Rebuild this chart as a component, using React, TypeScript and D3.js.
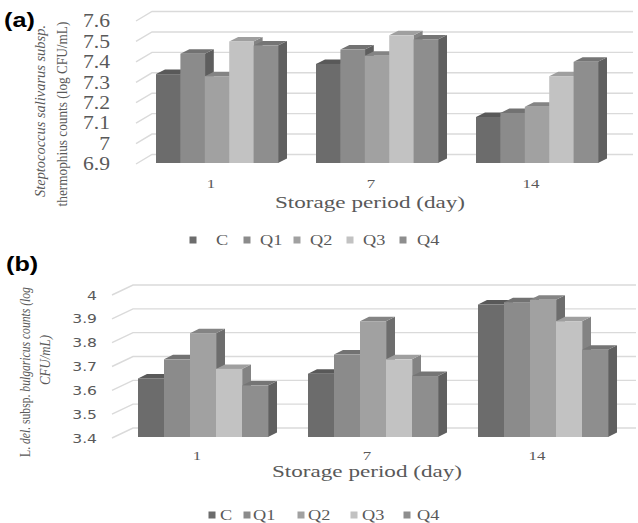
import React, { useEffect, useRef } from 'react';
import * as d3 from 'd3';

// categories (storage day) and treatments
const categories = ['1', '7', '14'];
const seriesNames = ['C', 'Q1', 'Q2', 'Q3', 'Q4'];
const seriesColors = ['#6c6c6c', '#8b8b8b', '#a1a1a1', '#c2c2c2', '#8e8e8e'];

// (a) S. thermophilus counts, log CFU/mL
const thermoC = [7.34, 7.39, 7.13];
const thermoQ1 = [7.44, 7.46, 7.15];
const thermoQ2 = [7.33, 7.43, 7.18];
const thermoQ3 = [7.5, 7.53, 7.33];
const thermoQ4 = [7.48, 7.51, 7.4];
const ticksA = [6.9, 7, 7.1, 7.2, 7.3, 7.4, 7.5, 7.6];

// (b) L. bulgaricus counts, log CFU/mL
const bulgC = [3.65, 3.67, 3.96];
const bulgQ1 = [3.73, 3.75, 3.97];
const bulgQ2 = [3.84, 3.89, 3.98];
const bulgQ3 = [3.69, 3.73, 3.89];
const bulgQ4 = [3.62, 3.66, 3.77];
const ticksB = [3.4, 3.5, 3.6, 3.7, 3.8, 3.9, 4];

const SERIF = '"Liberation Serif", "Times New Roman", serif';
const SANS = '"DejaVu Sans", sans-serif';
const GREY = '#595959';

const stretchText = (g, x, y, str, sx, opts: any = {}) =>
  g.append('text')
    .attr('transform', `translate(${x},${y}) scale(${sx},1)`)
    .attr('font-family', opts.font || SERIF)
    .attr('font-size', opts.size || 15)
    .attr('font-weight', opts.weight || 'normal')
    .attr('text-anchor', opts.anchor || 'start')
    .attr('fill', opts.fill || GREY)
    .text(str);

function drawPanel(svg, p) {
  const g = svg.append('g');
  const y = d3.scaleLinear()
    .domain([p.ticks[0], p.ticks[p.ticks.length - 1]])
    .range(p.yRange);
  const [wdx, wdy] = p.wall;

  // back wall gridlines with the left diagonal
  p.ticks.forEach(t => {
    g.append('path')
      .attr('d', `M${p.axisX},${y(t)}L${p.axisX + wdx},${y(t) + wdy}H${p.wallRight}`)
      .attr('fill', 'none')
      .attr('stroke', '#dadada')
      .attr('stroke-width', 1.4);
  });

  // tick labels
  p.ticks.forEach(t => {
    stretchText(g, p.tickX, y(t), d3.format('~g')(t), p.tickStretch, { font: p.tickFont, size: p.tickSize, anchor: 'end' })
      .attr('dy', '0.35em');
  });

  // 3d bars
  const x0 = d3.scaleBand().domain(categories).range(p.bandRange);
  const x1 = d3.scaleBand().domain(seriesNames).range([0, p.groupWidth]);
  const [bdx, bdy] = p.depth;
  const base = y(p.ticks[0]) - 1;
  categories.forEach((c, ci) => {
    seriesNames.forEach((s, si) => {
      const v = p.series[si][ci];
      const xl = x0(c) + (x0.bandwidth() - p.groupWidth) / 2 + x1(s);
      const xr = xl + x1.bandwidth();
      const yt = y(v);
      const col = d3.color(seriesColors[si]);
      g.append('path')
        .attr('d', `M${xr},${yt}L${xr + bdx},${yt + bdy}V${base + bdy}L${xr},${base}Z`)
        .attr('fill', col.darker(1.1).formatHex());
      g.append('path')
        .attr('d', `M${xl},${yt}L${xl + bdx},${yt + bdy}H${xr + bdx}L${xr},${yt}Z`)
        .attr('fill', col.darker(0.55).formatHex());
      g.append('rect')
        .attr('x', xl)
        .attr('y', yt)
        .attr('width', xr - xl + 0.4)
        .attr('height', base - yt)
        .attr('fill', seriesColors[si]);
    });
    stretchText(g, x0(c) + x0.bandwidth() / 2 + p.catShift, p.catY, c, 1.3, { size: 13, anchor: 'middle' });
  });

  // x title
  g.append('text')
    .attr('x', p.xTitle[0])
    .attr('y', p.xTitle[1])
    .attr('text-anchor', 'middle')
    .attr('font-family', SERIF)
    .attr('font-size', 16)
    .attr('fill', GREY)
    .attr('textLength', 190)
    .attr('lengthAdjust', 'spacingAndGlyphs')
    .text('Storage period (day)');

  // legend
  seriesNames.forEach((s, i) => {
    g.append('rect')
      .attr('x', p.legendMarks[i] - 3.5)
      .attr('y', p.legendY - 8.5)
      .attr('width', 7)
      .attr('height', 7)
      .attr('fill', seriesColors[i]);
    stretchText(g, p.legendText[i], p.legendY, s, 1.22, { size: 15 });
  });

  // panel letter
  stretchText(g, p.letter[0], p.letter[1], p.letterText, 1.2, {
    font: '"Liberation Sans", Arial, sans-serif', size: 21, weight: 'bold', fill: '#000'
  });

  // y title, two rotated lines squeezed to the measured length
  p.yTitle.forEach(line => {
    const t = g.append('text')
      .attr('text-anchor', 'middle')
      .attr('font-family', SERIF)
      .attr('font-size', 15)
      .attr('fill', GREY);
    line.parts.forEach(([str, italic]) => {
      t.append('tspan').attr('font-style', italic ? 'italic' : 'normal').text(str);
    });
    const natural = t.node().getComputedTextLength() || line.len;
    t.attr('transform', `translate(${line.x},${line.cy}) rotate(-90) scale(${line.len / natural},1)`);
  });
}

const App = () => {
  const svgRef = useRef(null);

  useEffect(() => {
    const svg = d3.select(svgRef.current);
    svg.selectAll('*').remove();
    svg.append('rect').attr('width', 638).attr('height', 523).attr('fill', '#fff');

    drawPanel(svg, {
      series: [thermoC, thermoQ1, thermoQ2, thermoQ3, thermoQ4],
      ticks: ticksA,
      yRange: [164, 21],
      axisX: 136,
      wall: [16, -9.5],
      wallRight: 633,
      tickX: 110,
      tickFont: SERIF,
      tickSize: 18,
      tickStretch: 1.2,
      bandRange: [137, 617],
      groupWidth: 122,
      depth: [9, -4.5],
      catShift: -6,
      catY: 188,
      xTitle: [370, 208],
      legendY: 245,
      legendMarks: [193, 247, 297, 350, 403],
      legendText: [216, 260, 310, 363, 417],
      letter: [4, 27],
      letterText: '(a)',
      yTitle: [
        { x: 45, cy: 111, len: 172, parts: [['Steptococcus  salivarus subsp.', true]] },
        { x: 67, cy: 114, len: 185, parts: [['thermophius  counts (log CFU/mL)', false]] }
      ]
    });

    drawPanel(svg, {
      series: [bulgC, bulgQ1, bulgQ2, bulgQ3, bulgQ4],
      ticks: ticksB,
      yRange: [438, 295],
      axisX: 112,
      wall: [21, -10],
      wallRight: 636,
      tickX: 97,
      tickFont: SANS,
      tickSize: 13,
      tickStretch: 1.2,
      bandRange: [118, 628],
      groupWidth: 130,
      depth: [9, -4.5],
      catShift: -6,
      catY: 460,
      xTitle: [367, 477],
      legendY: 520,
      legendMarks: [212, 247, 301, 354, 407],
      legendText: [220, 253, 308, 362, 417],
      letter: [6, 271],
      letterText: '(b)',
      yTitle: [
        { x: 30, cy: 372, len: 170, parts: [['L. ', false], ['del.', true], [' subsp. ', false], ['bulgaricus counts (log', true]] },
        { x: 50, cy: 360, len: 50, parts: [['CFU/mL)', true]] }
      ]
    });
  }, []);

  return (
    <svg
      ref={svgRef}
      width={638}
      height={523}
      style={{ position: 'absolute', left: 0, top: 0 }}
    />
  );
};

export default App;
